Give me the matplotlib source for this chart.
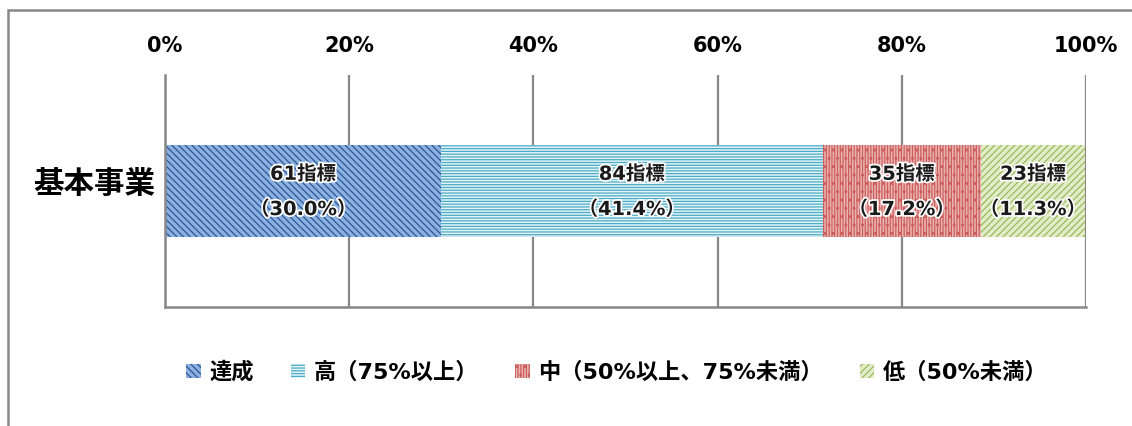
import matplotlib
matplotlib.use("Agg")
import matplotlib.pyplot as plt
import matplotlib.patheffects as pe
from matplotlib.patches import Patch, Rectangle

# Latin digits in a wide sans, Japanese from the CJK family
plt.rcParams["font.family"] = ["DejaVu Sans", "Noto Sans CJK JP"]
plt.rcParams["font.weight"] = "bold"
plt.rcParams["hatch.linewidth"] = 0.9

category = "基本事業"
series_names = ["達成", "高（75%以上）", "中（50%以上、75%未満）", "低（50%未満）"]
counts = [61, 84, 35, 23]
shares = [30.0, 41.4, 17.2, 11.3]
tick_values = [0, 20, 40, 60, 80, 100]

face_colors = ["#8cb1e0", "#e4f3f8", "#eab4b4", "#e2ecca"]
hatch_colors = ["#2b5797", "#4bacc6", "#cc5f5c", "#9bbb59"]
hatches = ["\\\\\\\\\\", "------", "||||||..", "/////"]

fig = plt.figure(figsize=(11.32, 4.26), dpi=100)
ax = fig.add_axes([165 / 1132, 1 - 307 / 426, 921 / 1132, 232 / 426])

left = 0.0
for share, count, fc, hc, h in zip(shares, counts, face_colors, hatch_colors, hatches):
    ax.barh(0, share, left=left, height=1.0, color=fc, edgecolor=hc,
            hatch=h, linewidth=0, zorder=2)
    for text, dy in ((f"{count}指標", 0.18), (f"（{share:.1f}%）", -0.20)):
        ax.text(left + share / 2, dy, text, ha="center", va="center",
                fontsize=14, fontweight="bold", color="#1a1a1a", zorder=3,
                path_effects=[pe.withStroke(linewidth=2.5, foreground="white")])
    left += share

ax.set_xlim(0, 100)
ax.set_ylim(-1.25, 1.25)
ax.set_xticks(tick_values)
ax.set_xticklabels([f"{v}%" for v in tick_values], fontsize=15, fontweight="bold")
ax.xaxis.tick_top()
ax.tick_params(axis="x", length=0, pad=14)
ax.set_yticks([0.1])
ax.set_yticklabels([category], fontsize=22, fontweight="bold")
ax.tick_params(axis="y", length=0, pad=7)
ax.grid(axis="x", color="#888888", linewidth=1.6, zorder=0)
ax.set_axisbelow(True)
for side in ("top", "right"):
    ax.spines[side].set_visible(False)
for side in ("left", "bottom"):
    ax.spines[side].set_color("#888888")
    ax.spines[side].set_linewidth(1.8)

handles = [Patch(facecolor=fc, edgecolor=hc, hatch=h, linewidth=0)
           for fc, hc, h in zip(face_colors, hatch_colors, hatches)]
fig.legend(handles, series_names, loc="center", bbox_to_anchor=(617 / 1132, 1 - 372 / 426),
           ncol=4, frameon=False, fontsize=16, handlelength=0.65, handleheight=0.65,
           handletextpad=0.4, columnspacing=1.65)

# outer chart frame, open at the right and bottom
fig.patches.append(Rectangle((7.5 / 1132, -0.1), 1.2, (426 - 10) / 426 + 0.1,
                             transform=fig.transFigure, fill=False,
                             edgecolor="#888888", linewidth=1.8))

fig.savefig("out.png", dpi=100)
